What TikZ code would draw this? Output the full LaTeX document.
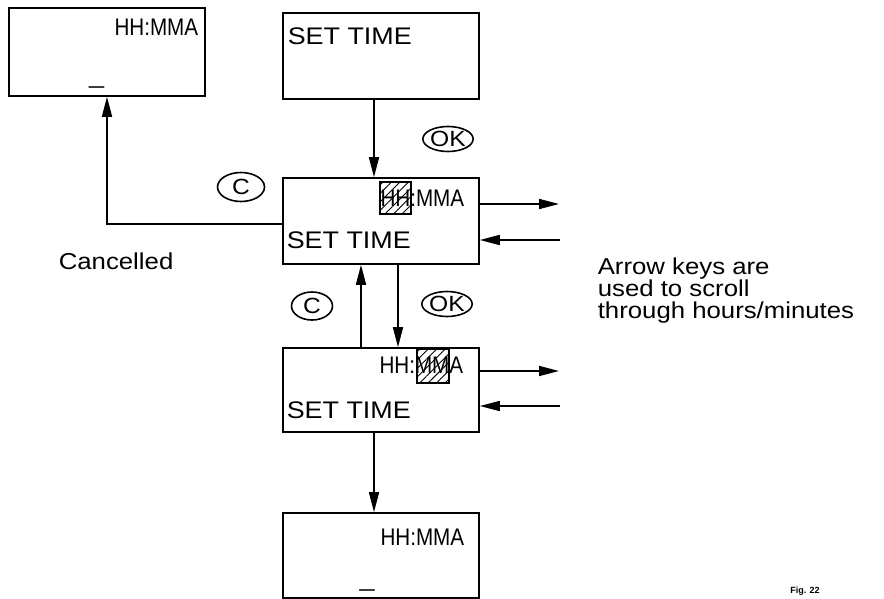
\documentclass[tikz,border=0pt]{standalone}
\usepackage{fontspec}
\setmainfont{Liberation Sans}
\newfontfamily\lcdfont[FakeStretch=1.12]{Liberation Sans}
\newfontfamily\hmfont[FakeStretch=0.86]{Liberation Sans}
\usepackage{tikz}
\usetikzlibrary{arrows.meta,positioning,shapes.geometric,patterns.meta}
\newcommand\lcdtxt{\lcdfont\fontsize{24}{26}\selectfont}
\newcommand\hmtxt{\hmfont\fontsize{24}{26}\selectfont}
\newcommand\notetxt{\lcdfont\fontsize{23}{22}\selectfont}

\begin{document}
\begin{tikzpicture}[x=1pt,y=-1pt,
  line width=1.6pt,
  screen/.style={draw,minimum width=196pt,minimum height=86pt,inner sep=0pt},
  hatch/.style={draw,line width=1.3pt,inner sep=0pt,
                pattern={Lines[angle=45,distance=6pt,line width=0.9pt]}},
  key/.style={draw,ellipse,inner sep=0pt,line width=1.6pt,font=\lcdfont\fontsize{22}{22}\selectfont},
  txt/.style={inner sep=0pt},
  arr/.style={-{Triangle[length=20pt,width=10pt]}}
]
\useasboundingbox (0,0) rectangle (884,599);

% screens
\node[screen,minimum height=88pt] (clock) at (107,52) {};
\node[screen] (settime) at (381,56) {};
\node[screen] (hourbox) at (381,221) {};
\node[screen,minimum height=84pt] (minbox) at (381,390) {};
\node[screen,minimum height=85pt] (donebox) at (381,555.5) {};

% screen texts
\node[txt,anchor=base east,font=\hmtxt] (clockhm) at (199,36) {HH:MMA};
\node[txt,anchor=base,font=\lcdtxt] (clockcur) at (96.5,84) {\_};
\node[txt,anchor=base west,font=\lcdtxt] (setlbl) at (287,45) {SET TIME};
\node[txt,anchor=base east,font=\hmtxt] (hourhm) at (465,206) {HH:MMA};
\node[txt,anchor=base west,font=\lcdtxt] (hourlbl) at (286,248) {SET TIME};
\node[txt,anchor=base east,font=\hmtxt] (minhm) at (464,373) {HH:MMA};
\node[txt,anchor=base west,font=\lcdtxt] (minlbl) at (286,418) {SET TIME};
\node[txt,anchor=base east,font=\hmtxt] (donehm) at (465,545) {HH:MMA};
\node[txt,anchor=base,font=\lcdtxt] (donecur) at (367,586) {\_};

% blinking fields
\node[hatch,minimum width=31pt,minimum height=32pt] (hhcell) at (395.5,198) {};
\node[hatch,minimum width=32pt,minimum height=34pt] (mmcell) at (433,366) {};

% keys
\node[key,minimum width=47pt,minimum height=29pt] (cancelA) at (241,187) {C};
\node[key,minimum width=47pt,minimum height=25pt] (okA) at (448,139) {OK};
\node[key,minimum width=41pt,minimum height=28pt] (cancelB) at (312,306) {C};
\node[key,minimum width=47pt,minimum height=25pt] (okB) at (447,304) {OK};

% notes
\node[txt,anchor=base west,font=\notetxt] (cancelled) at (58,269) {Cancelled};
\node[txt,anchor=north west,align=left,font=\notetxt] (scrollnote) at (597,257)
  {Arrow keys are\\used to scroll\\through hours/minutes};
\node[txt,font=\bfseries\fontsize{9}{10}\selectfont] (fig) at (805,591) {Fig. 22};

% flow
\draw[arr] ([xshift=-7pt]settime.south) -- ([xshift=-7pt]hourbox.north);
\draw[arr] ([yshift=-3pt]hourbox.west) -| (clock.south);
\draw[arr] ([xshift=17pt]hourbox.south) -- ([xshift=17pt]minbox.north);
\draw[arr] ([xshift=-20pt]minbox.north) -- ([xshift=-20pt]hourbox.south);
\draw[arr] ([xshift=-7pt]minbox.south) -- ([xshift=-7pt]donebox.north);

% arrow keys
\coordinate (hourout) at (559,204);
\coordinate (hourin) at (560,240);
\coordinate (minout) at (559,371);
\coordinate (minin) at (560,406);
\draw[arr] (hourbox.east |- hourout) -- (hourout);
\draw[arr] (hourin) -- (hourbox.east |- hourin);
\draw[arr] (minbox.east |- minout) -- (minout);
\draw[arr] (minin) -- (minbox.east |- minin);
\end{tikzpicture}
\end{document}
